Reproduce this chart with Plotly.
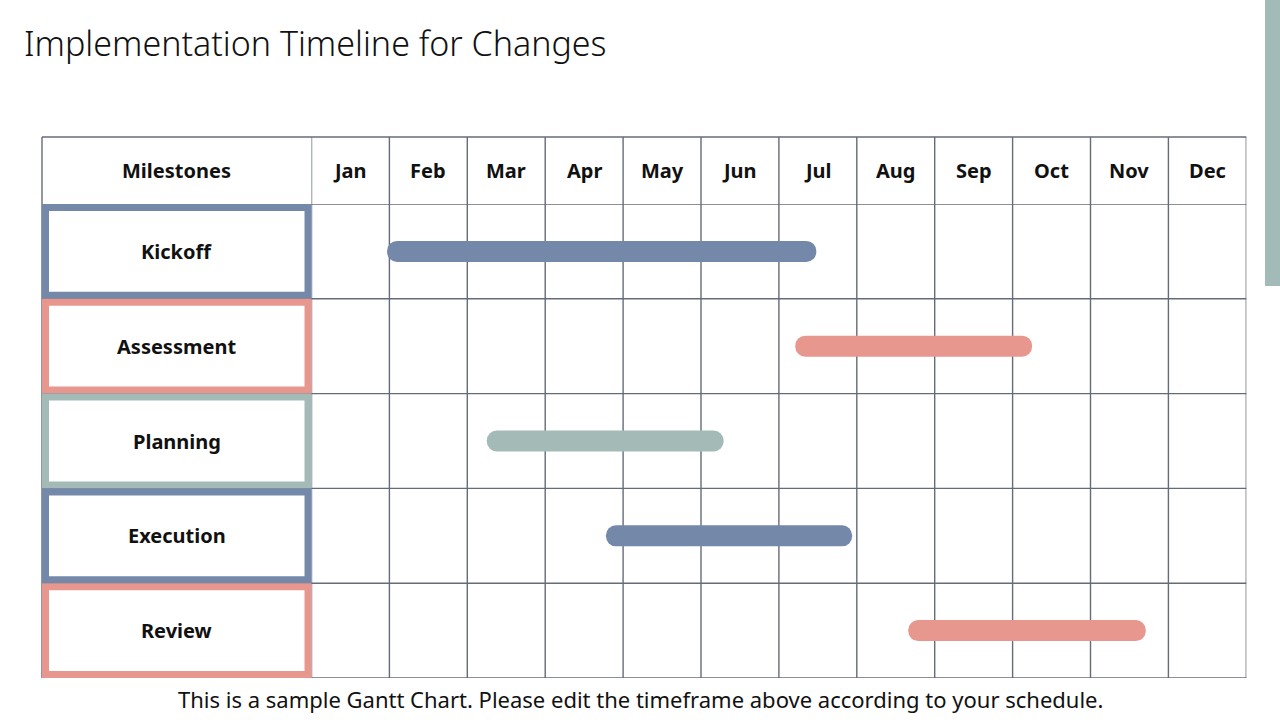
import plotly.graph_objects as go

# ---------------- data ----------------
months = ["Jan", "Feb", "Mar", "Apr", "May", "Jun",
          "Jul", "Aug", "Sep", "Oct", "Nov", "Dec"]
milestones = ["Kickoff", "Assessment", "Planning", "Execution", "Review"]
# start / end of each bar, in months from the start of January
start_month = [0.97, 6.21, 2.25, 3.78, 7.66]
end_month = [6.48, 9.25, 5.29, 6.94, 10.71]
milestone_colors = ["#7488A9", "#E8978F", "#A3BAB7", "#7488A9", "#E8978F"]

title_text = "Implementation Timeline for Changes"
header_label = "Milestones"
footer_text = ("This is a sample Gantt Chart. Please edit the timeframe above "
               "according to your schedule.")

# ---------------- layout geometry (pixels) ----------------
W, H = 1280, 720
TABLE_LEFT = 42
MONTH_LEFT = 311.5
MONTH_RIGHT = 1246.3
HEADER_TOP = 137
ROWS_TOP = 204
ROWS_BOTTOM = 678
GRID_COLOR = "#656b78"
GRID_W = 1.4
FONT = "Noto Sans"


def px(x):
    return x / W


def py(y):
    return 1 - y / H


n_rows = len(milestones)
durations = [e - s for s, e in zip(start_month, end_month)]

fig = go.Figure()
fig.add_trace(go.Bar(
    orientation="h",
    y=list(range(n_rows)),
    base=start_month,
    x=durations,
    width=0.222,
    marker=dict(color=milestone_colors, line=dict(width=0)),
    hoverinfo="skip",
    showlegend=False,
))

shapes = []
# horizontal grid lines
shapes.append(dict(type="line", xref="paper", yref="paper",
                   x0=px(TABLE_LEFT), x1=px(MONTH_RIGHT),
                   y0=py(HEADER_TOP), y1=py(HEADER_TOP),
                   line=dict(color=GRID_COLOR, width=GRID_W), layer="below"))
for k in range(n_rows + 1):
    shapes.append(dict(type="line", xref="paper", yref="y",
                       x0=px(TABLE_LEFT), x1=px(MONTH_RIGHT),
                       y0=k - 0.5, y1=k - 0.5,
                       line=dict(color=GRID_COLOR, width=GRID_W), layer="below"))
# vertical grid lines
shapes.append(dict(type="line", xref="paper", yref="paper",
                   x0=px(TABLE_LEFT), x1=px(TABLE_LEFT),
                   y0=py(HEADER_TOP), y1=py(ROWS_BOTTOM),
                   line=dict(color=GRID_COLOR, width=GRID_W), layer="below"))
for i in range(len(months) + 1):
    shapes.append(dict(type="line", xref="x", yref="paper",
                       x0=i, x1=i, y0=py(HEADER_TOP), y1=py(ROWS_BOTTOM),
                       line=dict(color=GRID_COLOR, width=GRID_W), layer="below"))

# milestone boxes (coloured frame + white inner)
BORDER = 7
row_px = (ROWS_BOTTOM - ROWS_TOP) / n_rows
d = BORDER / row_px
for k, c in enumerate(milestone_colors):
    shapes.append(dict(type="rect", xref="paper", yref="y",
                       x0=px(TABLE_LEFT), x1=px(MONTH_LEFT),
                       y0=k - 0.5, y1=k + 0.5,
                       fillcolor=c, line=dict(width=0), layer="above"))
    shapes.append(dict(type="rect", xref="paper", yref="y",
                       x0=px(TABLE_LEFT + BORDER), x1=px(MONTH_LEFT - BORDER),
                       y0=k - 0.5 + d, y1=k + 0.5 - d,
                       fillcolor="white", line=dict(width=0), layer="above"))

# decorative side strip
shapes.append(dict(type="rect", xref="paper", yref="paper",
                   x0=px(1265), x1=1.0, y0=py(286), y1=1.0,
                   fillcolor="#A3BBB8", line=dict(width=0), layer="above"))

annotations = []
hdr_y = py((HEADER_TOP + ROWS_TOP) / 2)
annotations.append(dict(text=f"<b>{header_label}</b>", xref="paper", yref="paper",
                        x=px((TABLE_LEFT + MONTH_LEFT) / 2), y=hdr_y,
                        showarrow=False, xanchor="center", yanchor="middle",
                        font=dict(family=FONT, size=20, color="#111")))
for i, m in enumerate(months):
    annotations.append(dict(text=f"<b>{m}</b>", xref="x", yref="paper",
                            x=i + 0.5, y=hdr_y, showarrow=False,
                            xanchor="center", yanchor="middle",
                            font=dict(family=FONT, size=20, color="#111")))
for k, name in enumerate(milestones):
    annotations.append(dict(text=f"<b>{name}</b>", xref="paper", yref="y",
                            x=px((TABLE_LEFT + MONTH_LEFT) / 2), y=k,
                            showarrow=False, xanchor="center", yanchor="middle",
                            font=dict(family=FONT, size=20, color="#111")))
annotations.append(dict(text=title_text, xref="paper", yref="paper",
                        x=px(22), y=py(43), showarrow=False,
                        xanchor="left", yanchor="middle",
                        font=dict(family=FONT, size=34, color="#111", weight=300)))
annotations.append(dict(text=footer_text, xref="paper", yref="paper",
                        x=0.5, y=py(699), showarrow=False,
                        xanchor="center", yanchor="middle",
                        font=dict(family=FONT, size=22, color="#111")))

fig.update_layout(
    width=W, height=H,
    margin=dict(l=0, r=0, t=0, b=0),
    paper_bgcolor="white", plot_bgcolor="rgba(0,0,0,0)",
    barcornerradius=11,
    xaxis=dict(domain=[px(MONTH_LEFT), px(MONTH_RIGHT)], range=[0, 12],
               visible=False, fixedrange=True),
    yaxis=dict(domain=[py(ROWS_BOTTOM), py(ROWS_TOP)], range=[n_rows - 0.5, -0.5],
               visible=False, fixedrange=True),
    shapes=shapes,
    annotations=annotations,
    showlegend=False,
)

fig.write_html("out.html", config={"displayModeBar": False})
